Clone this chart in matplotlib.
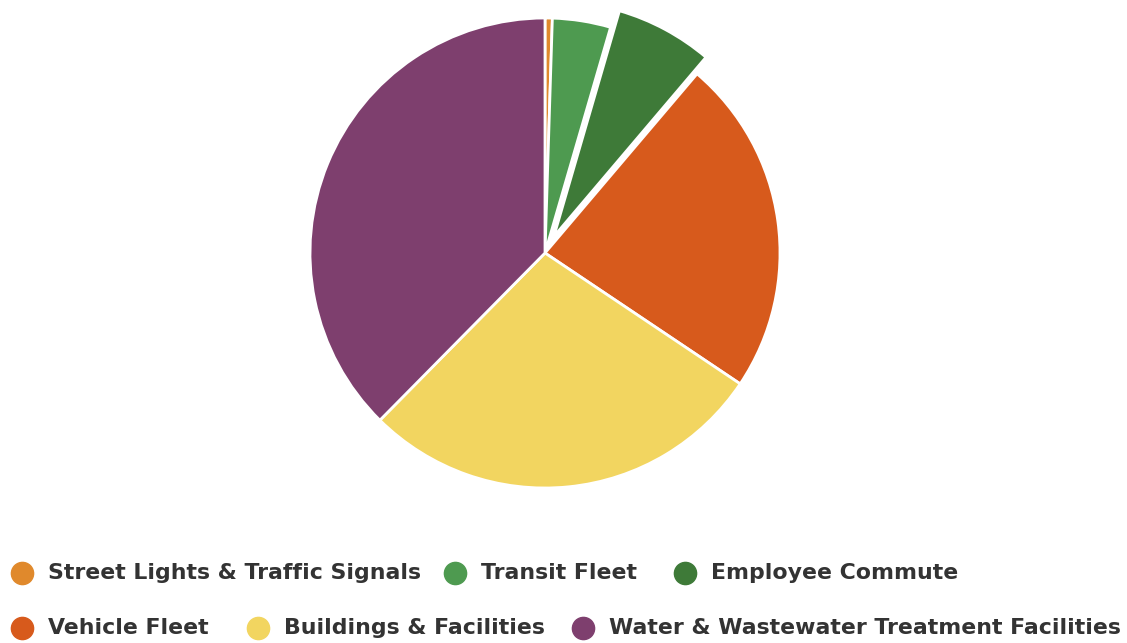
import matplotlib
matplotlib.use("Agg")
import matplotlib.pyplot as plt
from matplotlib.lines import Line2D

# slice data (clockwise from 12 o'clock), in percent
labels = ["Street Lights & Traffic Signals", "Transit Fleet", "Employee Commute",
          "Vehicle Fleet", "Buildings & Facilities",
          "Water & Wastewater Treatment Facilities"]
shares = [0.5, 4.0, 6.7, 23.2, 28.0, 37.6]
colors = ["#E0892C", "#4E9A50", "#3E7A38", "#D75A1C", "#F2D560", "#7E3F6E"]
explode = [0, 0, 0.08, 0, 0, 0]

W, H = 1127, 643
fig = plt.figure(figsize=(W / 100, H / 100), dpi=100)
fig.patch.set_facecolor("white")

# pie centre / radius in pixels
cx, cy, r = 545, 253, 235
ax = fig.add_axes([(cx - r) / W, (H - cy - r) / H, 2 * r / W, 2 * r / H])
wedges, _ = ax.pie(shares, colors=colors, explode=explode, startangle=90,
                   counterclock=False, radius=1,
                   wedgeprops=dict(edgecolor="white", linewidth=2))
for w in wedges:
    w.set_clip_on(False)
ax.set_xlim(-1, 1)
ax.set_ylim(-1, 1)
ax.set_aspect("equal")
ax.axis("off")

# legend laid out in two rows like the original
legend_pos = [(22, 573), (455, 573), (685, 573),
              (22, 628), (258, 628), (583, 628)]
lax = fig.add_axes([0, 0, 1, 1])
lax.set_xlim(0, W)
lax.set_ylim(H, 0)
lax.axis("off")
for (x, y), lab, col in zip(legend_pos, labels, colors):
    lax.add_line(Line2D([x], [y], marker="o", markersize=16,
                        markerfacecolor=col, markeredgecolor=col, linestyle=""))
    lax.text(x + 26, y, lab, fontsize=15.8, fontweight="bold", color="#333333",
             va="center", ha="left", family="DejaVu Sans")

fig.savefig("out.png", dpi=100, facecolor="white")
